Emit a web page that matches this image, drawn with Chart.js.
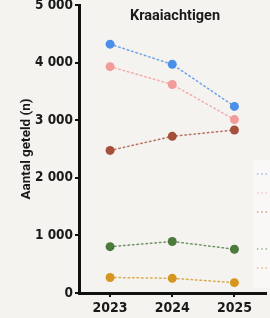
<!DOCTYPE html>
<html>
<head>
<meta charset="utf-8">
<script src="https://cdn.jsdelivr.net/npm/chart.js@4/dist/chart.umd.min.js"></script>
<style>
  html, body { margin: 0; padding: 0; background: #f5f3ef; overflow: hidden; }
  #wrap { width: 270px; height: 318px; position: relative; }
</style>
</head>
<body>
<div id="wrap"><canvas id="c" width="270" height="318"></canvas></div>
<script>
const categories = ['2023', '2024', '2025'];
const seriesNames = ['Zwarte kraai', 'Kauw', 'Ekster', 'Roek', 'Gaai'];
const serieBlue   = [4320, 3970, 3240];
const seriePink   = [3930, 3620, 3010];
const serieBrown  = [2475, 2720, 2830];
const serieGreen  = [805, 895, 760];
const serieOrange = [270, 255, 180];
const yTickLabels = ['0', '1 000', '2 000', '3 000', '4 000', '5 000'];
const colors = ['#4b8fe8', '#f29b9b', '#a6503c', '#4b7a3d', '#d4961f'];
const lineColors = ['rgba(75,143,232,0.8)', 'rgba(242,155,155,0.8)', 'rgba(166,80,60,0.8)', 'rgba(75,122,61,0.8)', 'rgba(212,150,31,0.8)'];
const seriesValues = [serieBlue, seriePink, serieBrown, serieGreen, serieOrange];

const narrow = "'Liberation Sans Narrow', 'DejaVu Sans Condensed', 'Roboto', sans-serif";

const titlePlugin = {
  id: 'innerTitle',
  afterDraw(chart) {
    const ctx = chart.ctx;
    ctx.save();
    // legend panel at right edge (partially visible)
    ctx.fillStyle = 'rgba(255,255,255,0.45)';
    ctx.fillRect(253, 160, 30, 128);
    const ys = [174, 193, 212, 249, 268];
    chart.data.datasets.forEach((ds, i) => {
      ctx.strokeStyle = ds.borderColor;
      ctx.globalAlpha = 0.8;
      ctx.lineWidth = 1.3;
      ctx.setLineDash([1.3, 3]);
      ctx.beginPath();
      ctx.moveTo(257, ys[i]);
      ctx.lineTo(272, ys[i]);
      ctx.stroke();
    });
    ctx.globalAlpha = 1;
    ctx.setLineDash([]);
    ctx.fillStyle = '#1a1a1a';
    ctx.font = "bold 14.5px Roboto, 'Liberation Sans', sans-serif";
    ctx.textAlign = 'center';
    ctx.textBaseline = 'middle';
    ctx.fillText('Kraaiachtigen', 175, 16);
    ctx.restore();
  }
};

new Chart(document.getElementById('c'), {
  type: 'line',
  data: {
    labels: categories,
    datasets: seriesValues.map((vals, i) => ({
      label: seriesNames[i],
      data: vals,
      borderColor: lineColors[i],
      backgroundColor: colors[i],
      pointBackgroundColor: colors[i],
      borderWidth: 1.5,
      borderDash: [1.5, 3],
      borderCapStyle: 'round',
      pointRadius: 4.5,
      pointBorderWidth: 0,
      pointHoverRadius: 4.5,
      tension: 0
    }))
  },
  options: {
    responsive: false,
    animation: false,
    devicePixelRatio: 1,
    layout: { padding: { top: 5, right: 0, left: 0, bottom: 0 } },
    plugins: { legend: { display: false }, tooltip: { enabled: false } },
    scales: {
      x: {
        offset: true,
        border: { display: true, color: '#111', width: 3 },
        grid: { display: true, drawOnChartArea: false, drawTicks: true, tickLength: 4, color: '#111', lineWidth: 2 },
        ticks: { color: '#1a1a1a', padding: 3, font: { family: narrow, size: 14, weight: 'bold' } },
        afterFit(s) { s.height = 25; s.paddingLeft = 0; s.paddingRight = 0; }
      },
      y: {
        min: 0, max: 5000,
        border: { display: true, color: '#111', width: 3 },
        grid: { display: true, drawOnChartArea: false, drawTicks: true, tickLength: 4, color: '#111', lineWidth: 2 },
        ticks: {
          stepSize: 1000,
          color: '#1a1a1a',
          padding: 2,
          font: { family: narrow, size: 13.5, weight: 'bold' },
          callback: (v) => yTickLabels[Math.round(v / 1000)]
        },
        title: {
          display: true,
          text: 'Aantal geteld (n)',
          color: '#1a1a1a',
          font: { family: "Roboto, 'Liberation Sans', sans-serif", size: 13.5, weight: 'bold' },
          padding: { top: 19, bottom: 0 }
        },
        afterFit(s) { s.width = 79; s.paddingTop = 0; s.paddingBottom = 0; }
      }
    }
  },
  plugins: [titlePlugin]
});
</script>
</body>
</html>
